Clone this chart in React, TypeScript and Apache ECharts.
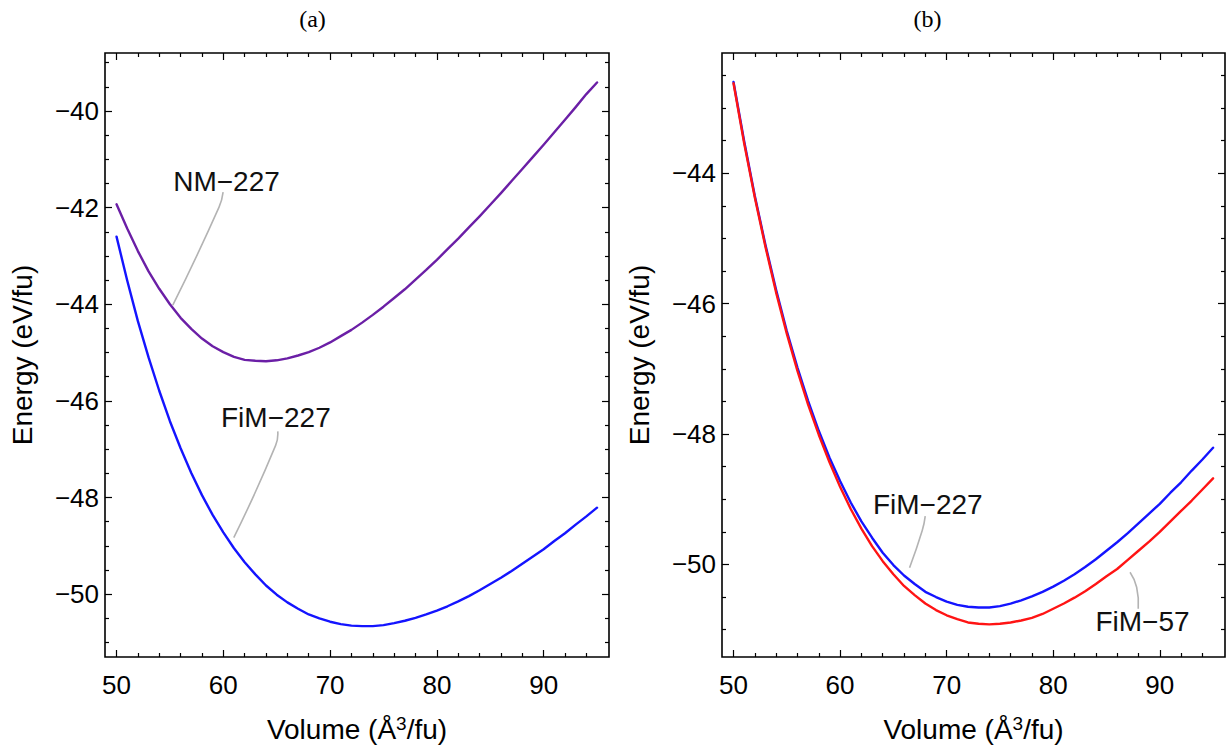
import React, { useEffect, useRef } from "react";
import * as echarts from "echarts";

// ---- data ----
const volumes = [
  50, 51, 52, 53, 54, 55, 56, 57, 58, 59,
  60, 61, 62, 63, 64, 65, 66, 67, 68, 69,
  70, 71, 72, 73, 74, 75, 76, 77, 78, 79,
  80, 81, 82, 83, 84, 85, 86, 87, 88, 89,
  90, 91, 92, 93, 94, 95,
];
const nm227 = [
  -41.93, -42.43, -42.9, -43.32, -43.68, -44.0, -44.28, -44.51, -44.71, -44.87,
  -44.99, -45.09, -45.15, -45.17, -45.18, -45.16, -45.12, -45.06, -44.99, -44.9,
  -44.79, -44.66, -44.53, -44.38, -44.22, -44.05, -43.87, -43.69, -43.49, -43.29,
  -43.08, -42.86, -42.64, -42.41, -42.18, -41.94, -41.7, -41.45, -41.2, -40.95,
  -40.7, -40.44, -40.18, -39.92, -39.65, -39.41,
];
const fim227 = [
  -42.6, -43.51, -44.35, -45.1, -45.79, -46.42, -46.98, -47.49, -47.95, -48.36,
  -48.72, -49.05, -49.34, -49.59, -49.82, -50.01, -50.17, -50.3, -50.42, -50.5,
  -50.57, -50.62, -50.65, -50.66, -50.66, -50.64, -50.6, -50.55, -50.49, -50.42,
  -50.34, -50.25, -50.15, -50.04, -49.92, -49.79, -49.66, -49.52, -49.37, -49.22,
  -49.07, -48.9, -48.74, -48.56, -48.39, -48.21,
];
const fim57 = [
  -42.62, -43.54, -44.37, -45.13, -45.83, -46.46, -47.03, -47.55, -48.01, -48.43,
  -48.81, -49.15, -49.45, -49.72, -49.95, -50.15, -50.33, -50.47, -50.6, -50.7,
  -50.78, -50.84, -50.89, -50.91, -50.92, -50.91, -50.89, -50.86, -50.82, -50.76,
  -50.68, -50.6, -50.51, -50.41, -50.3, -50.18, -50.07, -49.93, -49.79, -49.65,
  -49.5, -49.34, -49.18, -49.02, -48.85, -48.68,
];

const xMajor = [50, 60, 70, 80, 90];
const xMinor = [52, 54, 56, 58, 62, 64, 66, 68, 72, 74, 76, 78, 82, 84, 86, 88, 92, 94];
const yMajorA = [-50, -48, -46, -44, -42, -40];
const yMinorA = [-51, -50.5, -49.5, -49, -48.5, -47.5, -47, -46.5, -45.5, -45, -44.5, -43.5, -43, -42.5, -41.5, -41, -40.5, -39.5, -39];
const yMajorB = [-50, -48, -46, -44];
const yMinorB = [-51, -50.5, -49.5, -49, -48.5, -47.5, -47, -46.5, -45.5, -45, -44.5, -43.5, -43, -42.5];

const xRange = [48.92, 96.12];
const yRangeA = [-51.3, -38.8];
const yRangeB = [-51.42, -42.155];

// annotations: text position and pointer (start, bend, tip) in data coords
const annotations = [
  { panel: 0, text: "NM\u2212227", at: [60.3, -41.46], pts: [[59.98, -41.68], [59.6, -41.99], [55.27, -44.02]] },
  { panel: 0, text: "FiM\u2212227", at: [64.92, -46.34], pts: [[65.1, -46.63], [64.9, -46.92], [60.98, -48.83]] },
  { panel: 1, text: "FiM\u2212227", at: [68.23, -49.08], pts: [[67.99, -49.26], [67.71, -49.48], [66.52, -50.05]] },
  { panel: 1, text: "FiM\u221257", at: [88.38, -50.87], pts: [[87.98, -50.68], [87.83, -50.35], [87.21, -50.12]] },
];

const FONT = '"Liberation Sans", Arial, Helvetica, sans-serif';
const SERIF = '"Liberation Serif", "Times New Roman", serif';
const fmt = (v: number) => String(v).replace("-", "\u2212");

function xAxis(grid: number, pos: string, vals: number[], len: number, labels: boolean, name?: boolean) {
  return {
    type: "value",
    gridIndex: grid,
    position: pos,
    min: xRange[0],
    max: xRange[1],
    axisLine: { show: false },
    splitLine: { show: false },
    axisTick: { show: true, inside: true, length: len, customValues: vals, lineStyle: { color: "#000", width: 1.2 } },
    axisLabel: labels
      ? { show: true, customValues: vals, margin: 15, fontSize: 26, color: "#000", fontFamily: FONT, formatter: fmt }
      : { show: false },
    ...(name
      ? {
          name: "{a|Volume (Å}{s|3}{a|/fu)}",
          nameLocation: "middle",
          nameGap: 57,
          nameTextStyle: {
            color: "#000",
            rich: {
              a: { fontSize: 28, fontFamily: FONT, color: "#000" },
              s: { fontSize: 19, fontFamily: FONT, color: "#000", verticalAlign: "bottom", padding: [0, 0, 12, 0] },
            },
          },
        }
      : {}),
  };
}

function yAxis(grid: number, pos: string, range: number[], vals: number[], len: number, labels: boolean, name?: boolean) {
  return {
    type: "value",
    gridIndex: grid,
    position: pos,
    min: range[0],
    max: range[1],
    axisLine: { show: false },
    splitLine: { show: false },
    axisTick: { show: true, inside: true, length: len, customValues: vals, lineStyle: { color: "#000", width: 1.2 } },
    axisLabel: labels
      ? { show: true, customValues: vals, margin: 6, fontSize: 26, color: "#000", fontFamily: FONT, formatter: fmt }
      : { show: false },
    ...(name
      ? {
          name: "Energy (eV/fu)",
          nameLocation: "middle",
          nameGap: 69,
          nameRotate: 90,
          nameTextStyle: { color: "#000", fontSize: 28, fontFamily: FONT },
        }
      : {}),
  };
}

export default function App() {
  const ref = useRef<HTMLDivElement>(null);
  useEffect(() => {
    const el = ref.current!;
    const chart = echarts.init(el, null, { renderer: "svg" });
    const pairs = (ys: number[]) => volumes.map((v, i) => [v, ys[i]]);
    const line = (name: string, ys: number[], color: string, xi: number, yi: number) => ({
      type: "line",
      name,
      data: pairs(ys),
      xAxisIndex: xi,
      yAxisIndex: yi,
      smooth: false,
      showSymbol: false,
      symbol: "none",
      lineStyle: { color, width: 2.4, join: "round", cap: "round" },
      itemStyle: { color },
      z: 3,
    });
    const option: any = {
      animation: false,
      backgroundColor: "#fff",
      title: [
        { text: "(a)", left: 307.5, top: 2, textAlign: "center", textStyle: { fontFamily: SERIF, fontSize: 24, fontWeight: "normal", color: "#000" } },
        { text: "(b)", left: 922.5, top: 2, textAlign: "center", textStyle: { fontFamily: SERIF, fontSize: 24, fontWeight: "normal", color: "#000" } },
      ],
      grid: [
        { left: 105, top: 53, width: 504, height: 604, show: true, borderColor: "#000", borderWidth: 1.6, backgroundColor: "transparent" },
        { left: 722, top: 53, width: 503, height: 604, show: true, borderColor: "#000", borderWidth: 1.6, backgroundColor: "transparent" },
      ],
      xAxis: [
        xAxis(0, "bottom", xMajor, 7, true, true),
        xAxis(0, "bottom", xMinor, 4, false),
        xAxis(0, "top", xMajor, 7, false),
        xAxis(0, "top", xMinor, 4, false),
        xAxis(1, "bottom", xMajor, 7, true, true),
        xAxis(1, "bottom", xMinor, 4, false),
        xAxis(1, "top", xMajor, 7, false),
        xAxis(1, "top", xMinor, 4, false),
      ],
      yAxis: [
        yAxis(0, "left", yRangeA, yMajorA, 7, true, true),
        yAxis(0, "left", yRangeA, yMinorA, 4, false),
        yAxis(0, "right", yRangeA, yMajorA, 7, false),
        yAxis(0, "right", yRangeA, yMinorA, 4, false),
        yAxis(1, "left", yRangeB, yMajorB, 7, true, true),
        yAxis(1, "left", yRangeB, yMinorB, 4, false),
        yAxis(1, "right", yRangeB, yMajorB, 7, false),
        yAxis(1, "right", yRangeB, yMinorB, 4, false),
      ],
      series: [
        line("NM-227", nm227, "#6b1fa6", 0, 0),
        line("FiM-227", fim227, "#1414ff", 0, 0),
        line("FiM-227 (b)", fim227, "#1414ff", 4, 4),
        line("FiM-57", fim57, "#ff1414", 4, 4),
      ],
    };
    chart.setOption(option);

    const graphics: any[] = [];
    annotations.forEach((a) => {
      const finder = { seriesIndex: a.panel === 0 ? 0 : 2 };
      const tp = chart.convertToPixel(finder, a.at) as number[];
      const pts = a.pts.map((p) => chart.convertToPixel(finder, p) as number[]);
      graphics.push({
        type: "polyline",
        shape: { points: pts, smooth: 0.5 },
        style: { stroke: "#b3b3b3", lineWidth: 1.6, fill: null },
        z: 10,
      });
      graphics.push({
        type: "text",
        x: tp[0],
        y: tp[1],
        style: { text: a.text, font: `28px ${FONT}`, fill: "#111", align: "center", verticalAlign: "middle" },
        z: 11,
      });
    });
    chart.setOption({ graphic: graphics });
    return () => chart.dispose();
  }, []);
  return <div ref={ref} style={{ position: "fixed", left: 0, top: 0, width: 1230, height: 751, background: "#fff" }} />;
}
